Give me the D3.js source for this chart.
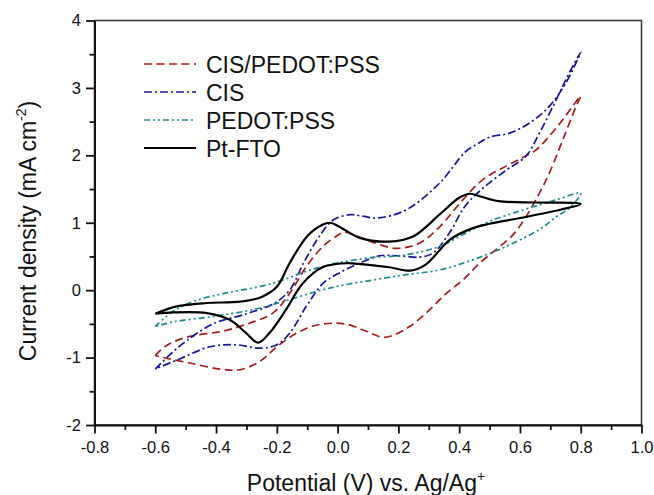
<!DOCTYPE html>
<html>
<head>
<meta charset="utf-8">
<script src="https://cdn.jsdelivr.net/npm/d3@7"></script>
<style>
  body { margin: 0; background: #fff; }
  text { font-family: "Liberation Sans", Arial, sans-serif; fill: #111; }
</style>
</head>
<body>
<svg id="chart" width="654" height="495"></svg>
<script>
// cyclic voltammograms, [potential (V), current density (mA cm-2)], traced along the loop
var cisPedotPss = [
    [-0.60, -0.97], [-0.563, -0.82], [-0.49, -0.69], [-0.38, -0.61], [-0.29, -0.49], [-0.213, -0.34],
    [-0.158, -0.05], [-0.103, 0.35], [-0.048, 0.65], [-0.004, 0.80], [0.02, 0.86], [0.06, 0.81],
    [0.11, 0.72], [0.193, 0.62], [0.27, 0.70], [0.336, 0.94], [0.412, 1.34], [0.478, 1.64],
    [0.555, 1.84], [0.61, 1.97], [0.65, 2.07], [0.686, 2.23], [0.741, 2.53], [0.80, 2.88],
    [0.785, 2.73], [0.741, 2.23], [0.697, 1.74], [0.664, 1.44], [0.62, 1.09], [0.577, 0.82],
    [0.521, 0.60], [0.467, 0.40], [0.412, 0.15], [0.357, -0.05], [0.303, -0.29], [0.237, -0.54],
    [0.182, -0.67], [0.149, -0.70], [0.094, -0.61], [0.039, -0.515], [-0.01, -0.49], [-0.07, -0.52],
    [-0.136, -0.64], [-0.20, -0.84], [-0.257, -1.06], [-0.322, -1.18], [-0.388, -1.17],
    [-0.487, -1.08], [-0.563, -1.01], [-0.60, -0.97]
];
var cis = [
    [-0.60, -1.17], [-0.55, -0.95], [-0.50, -0.76], [-0.41, -0.50], [-0.30, -0.35], [-0.21, -0.20],
    [-0.158, 0.0], [-0.11, 0.42], [-0.06, 0.80], [-0.015, 1.04], [0.04, 1.12], [0.08, 1.10],
    [0.13, 1.07], [0.225, 1.19], [0.336, 1.59], [0.42, 2.05], [0.46, 2.17], [0.50, 2.27],
    [0.566, 2.33], [0.632, 2.48], [0.697, 2.73], [0.752, 3.08], [0.80, 3.53],
    [0.763, 3.23], [0.72, 2.83], [0.664, 2.33], [0.62, 1.99], [0.555, 1.78], [0.48, 1.52],
    [0.42, 1.25], [0.368, 0.85], [0.314, 0.55], [0.27, 0.49], [0.20, 0.51], [0.138, 0.51],
    [0.072, 0.40], [0.007, 0.26], [-0.048, 0.10], [-0.103, -0.24], [-0.158, -0.64], [-0.20, -0.81],
    [-0.257, -0.86], [-0.335, -0.81], [-0.42, -0.84], [-0.52, -1.02], [-0.60, -1.17]
];
var pedotPss = [
    [-0.60, -0.54], [-0.54, -0.31], [-0.47, -0.16], [-0.37, -0.045], [-0.25, 0.06], [-0.18, 0.15],
    [-0.103, 0.28], [-0.004, 0.40], [0.105, 0.48], [0.225, 0.525], [0.336, 0.65], [0.423, 0.85],
    [0.50, 1.02], [0.61, 1.19], [0.72, 1.34], [0.80, 1.44],
    [0.763, 1.22], [0.72, 1.09], [0.664, 0.90], [0.555, 0.65], [0.445, 0.45], [0.336, 0.30],
    [0.225, 0.23], [0.116, 0.15], [0.007, 0.065], [-0.07, -0.02], [-0.18, -0.17], [-0.28, -0.29],
    [-0.41, -0.39], [-0.54, -0.47], [-0.60, -0.54]
];
var ptFto = [
    [-0.60, -0.35], [-0.53, -0.24], [-0.43, -0.19], [-0.32, -0.17], [-0.25, -0.10], [-0.20, 0.05],
    [-0.158, 0.40], [-0.10, 0.80], [-0.05, 0.97], [-0.025, 1.00], [0.01, 0.93], [0.07, 0.78],
    [0.17, 0.72], [0.25, 0.80], [0.335, 1.12], [0.40, 1.37], [0.435, 1.43], [0.47, 1.39],
    [0.53, 1.32], [0.66, 1.30], [0.80, 1.28],
    [0.71, 1.17], [0.60, 1.07], [0.50, 0.985], [0.445, 0.92], [0.37, 0.75], [0.29, 0.38],
    [0.24, 0.29], [0.17, 0.34], [0.07, 0.39], [0.03, 0.40], [-0.05, 0.34], [-0.115, 0.10],
    [-0.17, -0.29], [-0.225, -0.64], [-0.262, -0.78], [-0.30, -0.64], [-0.355, -0.44],
    [-0.43, -0.34], [-0.54, -0.33], [-0.60, -0.35]
];

var seriesNames = ["CIS/PEDOT:PSS", "CIS", "PEDOT:PSS", "Pt-FTO"];
var xTicks = [-0.8, -0.6, -0.4, -0.2, 0.0, 0.2, 0.4, 0.6, 0.8, 1.0];
var xMinorTicks = [-0.7, -0.5, -0.3, -0.1, 0.1, 0.3, 0.5, 0.7, 0.9];
var yTicks = [-2, -1, 0, 1, 2, 3, 4];
var yMinorTicks = [-1.5, -0.5, 0.5, 1.5, 2.5, 3.5];

var series = [
    { name: seriesNames[0], pts: cisPedotPss, color: "#a81c1c", dash: "8,4.5", w: 1.7 },
    { name: seriesNames[1], pts: cis, color: "#16169c", dash: "8,3,2,3", w: 1.7 },
    { name: seriesNames[2], pts: pedotPss, color: "#1b8c8c", dash: "6,3,2,3,2,3", w: 1.7 },
    { name: seriesNames[3], pts: ptFto, color: "#000", dash: null, w: 2.2 }
];

var svg = d3.select("#chart");
var mLeft = 94.5, mRight = 641.5, mTop = 20.5, mBottom = 425;

var x = d3.scaleLinear().domain([-0.8, 1.0]).range([mLeft, mRight]);
var y = d3.scaleLinear().domain([-2, 4]).range([mBottom, mTop]);

//frame, top and right edges without ticks
svg.append("rect")
    .attr("x", mLeft).attr("y", mTop)
    .attr("width", mRight - mLeft).attr("height", mBottom - mTop)
    .attr("fill", "none").attr("stroke", "#333").attr("stroke-width", 1.5);

//minor ticks first, then major axes on top
svg.append("g")
    .attr("transform", "translate(0," + mBottom + ")")
    .call(d3.axisBottom(x).tickValues(xMinorTicks).tickSize(5).tickFormat(""))
    .call(function (g) { g.select(".domain").remove(); });
svg.append("g")
    .attr("transform", "translate(" + mLeft + ",0)")
    .call(d3.axisLeft(y).tickValues(yMinorTicks).tickSize(5).tickFormat(""))
    .call(function (g) { g.select(".domain").remove(); });

var xAxis = svg.append("g")
    .attr("transform", "translate(0," + mBottom + ")")
    .call(d3.axisBottom(x).tickValues(xTicks).tickSize(8.5).tickSizeOuter(0).tickPadding(7.5)
        .tickFormat(function (d) { return d.toFixed(1); }));
var yAxis = svg.append("g")
    .attr("transform", "translate(" + mLeft + ",0)")
    .call(d3.axisLeft(y).tickValues(yTicks).tickSize(8.5).tickSizeOuter(0).tickPadding(5)
        .tickFormat(function (d) { return String(d); }));

svg.selectAll(".tick line").attr("stroke", "#111").attr("stroke-width", 1.8);
[xAxis, yAxis].forEach(function (a) {
    a.select(".domain").attr("stroke", "#111").attr("stroke-width", 2);
    a.selectAll("text")
        .style("font-family", "Liberation Sans, Arial, sans-serif")
        .style("font-size", "16.5px")
        .attr("fill", "#111");
});

//curves
var line = d3.line()
    .x(function (d) { return x(d[0]); })
    .y(function (d) { return y(d[1]); })
    .curve(d3.curveCatmullRom.alpha(0.5));

svg.append("g").selectAll("path")
    .data(series)
    .enter()
    .append("path")
    .attr("d", function (d) { return line(d.pts); })
    .attr("fill", "none")
    .attr("stroke", function (d) { return d.color; })
    .attr("stroke-width", function (d) { return d.w; })
    .attr("stroke-dasharray", function (d) { return d.dash; })
    .attr("stroke-linejoin", "round");

//legend
var lg = svg.append("g").selectAll("g")
    .data(series)
    .enter()
    .append("g")
    .attr("transform", function (d, i) { return "translate(0," + (64 + i * 28) + ")"; });

lg.append("line")
    .attr("x1", 144).attr("x2", 196)
    .attr("stroke", function (d) { return d.color; })
    .attr("stroke-width", function (d) { return d.w; })
    .attr("stroke-dasharray", function (d) { return d.dash; });

lg.append("text")
    .text(function (d) { return d.name; })
    .attr("x", 206)
    .attr("y", 8.5)
    .style("font-size", "23px");

//axis titles
var xt = svg.append("text")
    .attr("x", 366)
    .attr("y", 491)
    .attr("text-anchor", "middle")
    .style("font-size", "23px");
xt.append("tspan").text("Potential (V) vs. Ag/Ag");
xt.append("tspan").text("+").style("font-size", "14px").attr("dy", -10);

var yt = svg.append("text")
    .attr("transform", "translate(36,231) rotate(-90)")
    .attr("text-anchor", "middle")
    .style("font-size", "23px");
yt.append("tspan").text("Current density (mA cm");
yt.append("tspan").text("-2").style("font-size", "14px").attr("dy", -10);
yt.append("tspan").text(")").attr("dy", 10);
</script>
</body>
</html>
